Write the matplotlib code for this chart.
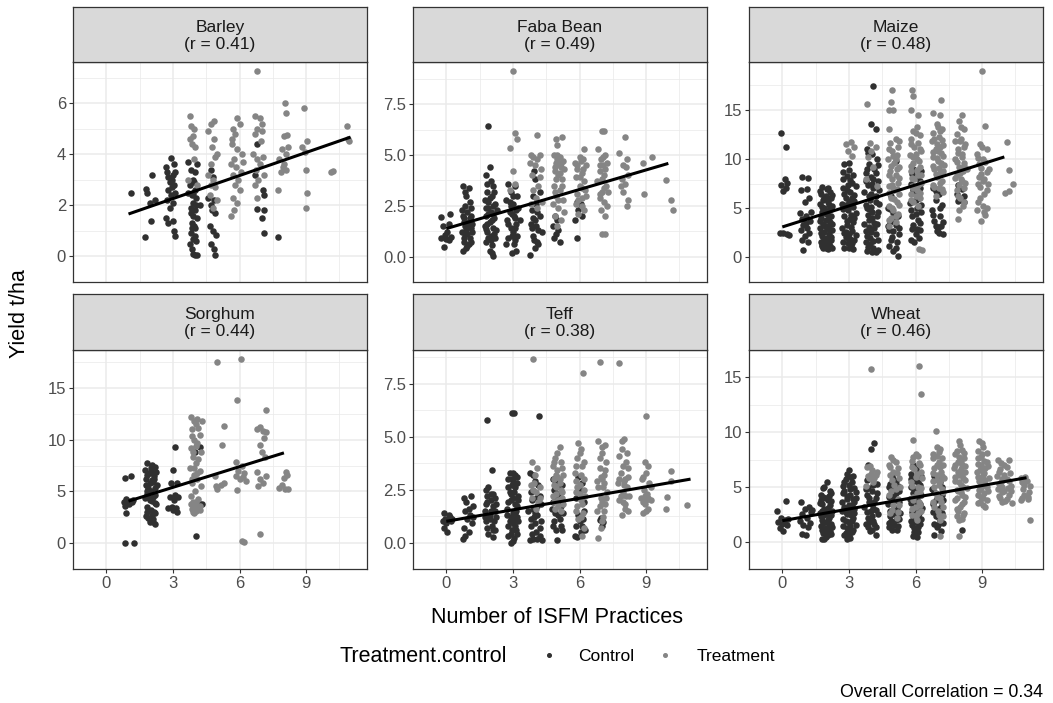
import matplotlib.pyplot as plt
import numpy as np
from matplotlib.lines import Line2D

plt.rcParams['font.family'] = ['Liberation Sans', 'DejaVu Sans']

# ---- data (x already includes the jitter) ----
crops = ["Barley", "Faba Bean", "Maize", "Sorghum", "Teff", "Wheat"]
r_values = [0.41, 0.49, 0.48, 0.44, 0.38, 0.46]
overall_r = 0.34

fit_intercept = [1.36, 1.38, 3.09, 3.40, 1.00, 1.91]
fit_slope = [0.301, 0.321, 0.711, 0.667, 0.181, 0.357]
fit_xmin = [1, 0, 0, 1, 0, 0]
fit_xmax = [11, 10, 10, 8, 11, 11]

y_ticks = [[0, 2, 4, 6], [0, 2.5, 5, 7.5], [0, 5, 10, 15],
           [0, 5, 10, 15], [0, 2.5, 5, 7.5], [0, 5, 10, 15]]
y_ticklabels = [["0", "2", "4", "6"], ["0.0", "2.5", "5.0", "7.5"], ["0", "5", "10", "15"],
                ["0", "5", "10", "15"], ["0.0", "2.5", "5.0", "7.5"], ["0", "5", "10", "15"]]
x_ticks = [0, 3, 6, 9]

barley_ctrl = [
    (1.1, 2.48), (1.75, 0.76), (1.8, 2.65), (1.85, 2.5), (2.0, 1.39), (2.05, 3.2), (2.2, 2.2), (1.95, 2.1),
    (2.9, 3.85), (2.7, 3.5), (2.75, 3.3), (2.8, 3.1), (2.85, 2.9), (2.95, 3.0), (3.0, 3.2), (3.05, 2.8),
    (2.8, 2.6), (2.9, 2.4), (3.1, 2.5), (2.75, 2.2), (3.0, 2.1), (2.85, 1.9), (3.0, 1.4), (2.8, 1.3),
    (3.05, 1.0), (3.1, 0.8), (3.05, 3.6), (2.7, 1.5), (2.95, 2.7), (3.1, 3.3),
    (3.7, 3.7), (3.8, 3.4), (4.0, 3.3), (4.1, 3.6), (3.9, 3.0), (3.75, 2.8), (4.0, 2.6), (3.85, 2.4),
    (4.05, 2.3), (3.9, 2.1), (3.8, 1.9), (4.0, 1.8), (3.9, 1.6), (4.1, 1.5), (3.85, 1.3), (4.0, 1.1),
    (3.8, 0.9), (3.9, 0.7), (3.75, 0.5), (3.85, 0.3), (4.0, 0.05), (4.1, 0.05), (3.9, 0.1), (4.2, 2.0),
    (3.7, 2.5), (3.95, 1.2), (4.05, 0.6), (3.8, 1.7), (3.95, 2.9), (3.9, 2.45), (4.05, 2.0), (3.85, 1.1),
    (4.0, 0.8),
    (4.7, 3.4), (4.8, 3.1), (4.6, 2.3), (4.75, 1.8), (4.9, 1.7), (4.65, 1.2), (4.8, 1.0), (4.95, 0.85),
    (4.7, 0.5), (4.85, 0.3), (4.9, 0.05), (4.7, 2.0), (4.85, 2.2),
    (6.8, 4.4), (7.05, 2.6), (7.1, 2.4), (6.8, 1.87), (7.1, 1.83), (7.0, 1.5), (7.1, 0.9), (6.7, 3.2),
    (7.75, 0.76),
]
barley_trt = [
    (3.75, 5.5), (3.8, 5.1), (3.95, 5.0), (3.9, 4.7), (3.75, 4.6), (3.85, 4.4), (4.0, 4.3), (3.7, 3.0),
    (4.1, 2.8), (3.95, 3.8),
    (4.7, 5.2), (4.85, 5.3), (4.6, 4.9), (4.85, 4.6), (4.75, 4.3), (5.0, 4.0), (4.9, 3.9), (4.7, 3.6),
    (4.6, 3.2), (4.8, 3.0), (4.9, 2.7), (4.65, 2.4), (5.0, 2.2), (4.8, 1.9), (4.7, 2.8),
    (5.7, 5.0), (5.9, 5.4), (6.0, 5.2), (5.8, 4.8), (5.65, 4.4), (5.9, 4.2), (6.1, 4.0), (5.75, 3.8),
    (5.6, 3.6), (5.85, 3.5), (6.05, 3.3), (5.7, 3.2), (5.95, 3.0), (5.8, 2.8), (6.0, 2.6), (5.7, 2.3),
    (5.9, 2.1), (5.6, 1.6), (5.75, 1.8), (6.15, 3.7), (5.65, 4.6),
    (6.7, 5.5), (6.9, 5.4), (7.0, 5.2), (6.8, 5.0), (6.7, 4.8), (6.95, 4.5), (6.6, 4.0), (7.05, 3.9),
    (6.8, 3.8), (6.9, 3.6), (6.75, 3.4), (7.1, 3.2), (6.85, 3.0), (6.7, 2.8), (6.8, 2.3), (7.0, 4.9),
    (8.05, 6.0), (8.1, 5.6), (8.0, 4.7), (8.12, 4.75), (7.9, 4.2), (7.8, 3.8), (8.0, 3.6), (8.1, 3.4),
    (7.85, 3.3), (7.75, 2.6), (8.2, 4.3), (8.1, 4.0), (7.95, 3.5),
    (8.9, 5.8), (9.05, 4.5), (8.95, 4.1), (9.0, 3.4), (9.05, 2.5), (9.0, 1.9), (8.8, 4.3),
    (10.1, 3.3), (10.2, 3.35), (10.85, 5.1), (10.9, 4.6), (10.95, 4.5), (6.8, 7.25),
]

faba_ctrl = [
    (-0.23, 1.95), (0.17, 2.1), (-0.15, 1.5), (0.05, 1.2), (-0.25, 0.9), (0.0, 0.85), (0.22, 0.95),
    (-0.1, 0.45), (0.12, 1.6), (-0.05, 1.05), (0.1, 0.8),
    (0.75, 3.5), (1.0, 3.4), (0.9, 3.0), (1.05, 2.7), (0.7, 2.3), (0.95, 2.2), (1.1, 2.0), (0.8, 1.9),
    (1.0, 1.7), (0.85, 1.5), (1.1, 1.4), (0.7, 1.2), (0.95, 1.1), (1.05, 0.9), (0.8, 0.7), (1.0, 0.6),
    (0.9, 0.4), (0.75, 0.3), (1.15, 1.2), (0.85, 2.5), (0.9, 1.3), (1.05, 1.9), (0.8, 0.9),
    (0.85, 3.2), (1.1, 2.4), (0.75, 2.0), (1.0, 1.5), (0.85, 1.1), (1.1, 0.7), (0.95, 0.5), (0.8, 1.7),
    (1.15, 1.6),
    (1.9, 6.45), (1.95, 4.4), (1.8, 4.0), (2.0, 3.7), (2.1, 3.5), (1.85, 3.2), (2.05, 3.0), (1.75, 2.8),
    (2.2, 2.6), (1.9, 2.4), (2.0, 2.2), (1.8, 2.0), (2.15, 1.9), (1.95, 1.7), (1.75, 1.5), (2.1, 1.4),
    (1.85, 1.2), (2.0, 1.0), (2.2, 0.9), (1.8, 0.7), (1.95, 0.3), (2.1, 0.05), (2.05, 0.2), (2.3, 2.3),
    (2.25, 1.3), (1.9, 2.7), (2.1, 2.1), (1.85, 1.6), (2.0, 0.8),
    (1.85, 3.6), (2.15, 3.2), (1.95, 2.9), (1.8, 2.4), (2.1, 2.5), (1.9, 2.1), (2.05, 1.8), (1.8, 1.35),
    (2.15, 1.1), (1.9, 0.9), (2.05, 0.55),
    (2.8, 3.6), (3.1, 3.5), (2.9, 3.2), (3.2, 3.0), (2.7, 2.8), (3.0, 2.6), (3.25, 2.4), (2.85, 2.2),
    (3.05, 2.0), (2.75, 1.8), (3.15, 1.6), (2.9, 1.4), (3.0, 1.2), (3.2, 1.0), (2.8, 0.9), (3.05, 0.6),
    (2.95, 0.2), (3.15, 0.3), (2.7, 0.6), (3.3, 1.8), (2.9, 2.5), (3.1, 1.9),
    (3.0, 3.0), (2.85, 2.7), (3.15, 2.3), (2.95, 2.1), (2.8, 1.6), (3.1, 1.4), (2.95, 1.0), (3.1, 0.8),
    (3.75, 0.1), (4.0, 0.4), (4.1, 0.7), (3.9, 1.0), (4.15, 1.3), (3.8, 1.6), (4.0, 1.8), (4.2, 2.0),
    (3.85, 2.3), (4.05, 2.6), (3.9, 3.0), (4.2, 3.2), (4.0, 3.8), (3.95, 4.2), (4.3, 1.2), (4.15, 0.6),
    (3.85, 1.4), (4.1, 2.2), (3.9, 1.9), (4.05, 1.5), (3.95, 0.8),
    (4.8, 1.5), (4.95, 1.1), (5.1, 0.7), (4.85, 0.9), (5.05, 1.3), (5.0, 1.8), (4.9, 2.0),
    (5.9, 0.9), (5.95, 2.3), (6.1, 2.0), (5.8, 1.8), (6.05, 2.6), (5.9, 2.7),
]
faba_trt = [
    (2.99, 9.13), (3.09, 6.07), (3.2, 5.8), (2.89, 5.34), (3.0, 4.2), (3.1, 3.6), (2.85, 3.3),
    (4.1, 6.0), (3.8, 5.0), (3.9, 4.9), (4.1, 4.8), (4.2, 5.0), (3.75, 4.6), (4.0, 4.5), (4.25, 4.3),
    (3.85, 4.0), (4.15, 3.5), (3.9, 3.3), (4.05, 2.9), (4.3, 2.7), (3.8, 2.6), (4.1, 2.4), (4.2, 3.9),
    (4.95, 5.8), (5.2, 5.9), (5.0, 5.5), (4.85, 5.0), (5.1, 4.9), (5.25, 4.7), (4.95, 4.6), (5.15, 4.4),
    (4.9, 4.2), (5.05, 4.0), (5.2, 3.8), (4.85, 3.5), (5.1, 3.3), (4.95, 3.0), (5.25, 2.8), (4.8, 2.6),
    (5.05, 2.4), (5.3, 2.2), (4.9, 2.0), (5.15, 1.8), (5.0, 1.5), (5.3, 4.3), (5.0, 4.8), (5.1, 4.5),
    (5.0, 5.0), (5.15, 4.6), (4.9, 4.4), (5.1, 4.1), (4.95, 3.8), (5.2, 3.5), (4.9, 3.2), (5.05, 2.8),
    (6.2, 5.3), (6.0, 4.9), (6.15, 4.8), (5.8, 4.6), (6.3, 4.5), (5.9, 4.3), (6.1, 4.1), (5.85, 3.9),
    (6.2, 3.7), (6.0, 3.5), (6.25, 3.3), (5.9, 3.1), (6.1, 2.9), (5.85, 2.6), (6.2, 2.3), (5.95, 2.1),
    (6.3, 3.0), (6.05, 4.7), (5.9, 4.5), (6.15, 4.3), (6.0, 3.9), (6.1, 3.4), (5.95, 2.8), (6.1, 2.5),
    (7.0, 6.2), (7.1, 6.2), (6.85, 5.3), (7.15, 5.0), (6.95, 4.8), (7.05, 4.5), (7.25, 4.6), (6.9, 4.2),
    (7.1, 4.0), (6.8, 3.7), (7.2, 3.5), (7.0, 3.2), (7.3, 3.2), (6.9, 2.9), (7.1, 2.7), (7.25, 2.5),
    (6.95, 2.3), (7.15, 2.0), (7.0, 1.1), (7.15, 1.1),
    (7.05, 4.9), (6.9, 4.5), (7.15, 4.3), (7.0, 3.8), (7.1, 3.4), (6.9, 3.1),
    (8.05, 5.9), (7.8, 5.1), (8.15, 4.8), (7.95, 4.5), (8.1, 4.4), (8.2, 4.0), (7.9, 3.8), (8.05, 3.6),
    (7.85, 3.5), (8.2, 2.8), (8.15, 2.5), (7.95, 3.2),
    (9.27, 4.93), (8.84, 4.63), (8.9, 3.1), (9.91, 3.76), (10.13, 2.78), (10.23, 2.28),
]

maize_ctrl = [
    (-0.05, 12.6), (0.15, 11.2), (0.1, 8.0), (0.2, 7.6), (-0.05, 7.3), (0.15, 7.0), (0.05, 6.7),
    (-0.1, 2.5), (0.05, 2.5), (0.2, 2.4), (0.3, 2.3),
    (0.9, 8.2), (1.15, 8.1), (0.85, 6.8), (1.1, 6.9), (1.2, 6.0), (1.0, 5.6), (0.8, 4.5), (1.05, 4.2),
    (0.9, 3.9), (1.25, 3.7), (0.95, 3.3), (1.1, 3.0), (0.85, 2.8), (1.2, 2.5), (1.0, 2.2), (0.9, 1.8),
    (1.15, 1.6), (0.95, 0.8), (1.3, 4.6), (1.05, 3.5),
    (1.8, 7.1), (2.0, 6.9), (2.15, 6.6), (1.75, 6.4), (1.95, 6.2), (2.2, 6.0), (1.85, 5.8), (2.05, 5.6),
    (1.7, 5.4), (2.25, 5.2), (1.9, 5.0), (2.1, 4.8), (1.8, 4.6), (2.0, 4.4), (2.2, 4.2), (1.75, 4.0),
    (1.95, 3.8), (2.15, 3.6), (1.85, 3.4), (2.05, 3.2), (1.7, 3.0), (2.25, 2.8), (1.9, 2.6), (2.1, 2.4),
    (1.8, 2.2), (2.0, 2.0), (2.2, 1.8), (1.75, 1.6), (1.95, 1.4), (2.15, 1.2), (1.85, 1.0), (2.05, 0.9),
    (2.1, 5.3), (1.9, 4.5), (2.0, 3.0), (1.8, 1.3),
    (1.72, 6.7), (2.22, 6.3), (1.88, 6.05), (2.08, 5.9), (1.78, 5.1), (2.18, 4.95), (1.97, 4.65),
    (2.12, 4.1), (1.72, 3.7), (2.22, 3.35), (1.92, 3.15), (2.1, 2.85), (1.75, 2.45), (2.2, 2.1),
    (1.9, 1.85), (2.1, 1.55), (1.8, 1.15), (2.25, 0.95), (1.95, 0.95), (2.05, 7.05),
    (2.8, 9.45), (3.0, 8.9), (2.9, 8.3), (3.15, 7.6), (2.75, 7.0), (3.05, 6.6), (3.25, 6.3), (2.85, 6.0),
    (3.1, 5.7), (2.7, 5.4), (3.2, 5.1), (2.95, 4.8), (3.3, 4.5), (2.8, 4.2), (3.05, 3.9), (3.2, 3.6),
    (2.9, 3.3), (2.7, 3.0), (3.15, 2.7), (3.0, 2.4), (2.85, 2.1), (3.25, 1.8), (2.95, 1.5), (3.1, 1.2),
    (2.8, 1.0), (3.2, 0.9), (3.0, 5.2), (2.9, 6.8), (3.1, 4.3), (2.85, 2.6), (3.05, 1.9), (3.3, 7.2),
    (2.75, 8.0),
    (3.0, 9.6), (2.72, 8.7), (3.2, 8.4), (2.95, 7.4), (2.78, 6.4), (3.15, 6.0), (3.0, 5.6), (2.75, 4.9),
    (3.25, 4.0), (2.92, 3.7), (3.1, 3.1), (2.78, 2.5), (3.3, 2.3), (2.95, 2.0), (2.75, 1.6), (3.15, 1.5),
    (3.0, 0.95), (3.25, 5.7), (2.85, 5.3), (3.05, 7.9),
    (4.1, 17.4), (4.0, 13.5), (4.2, 13.0), (3.8, 11.0), (4.05, 10.5), (4.25, 10.0), (3.9, 9.5), (4.15, 9.0),
    (3.75, 8.6), (4.0, 8.2), (4.3, 7.8), (3.85, 7.4), (4.1, 7.0), (3.7, 6.6), (4.2, 6.2), (3.95, 5.8),
    (4.35, 5.4), (3.8, 5.0), (4.05, 4.6), (4.25, 4.2), (3.9, 3.8), (3.7, 3.4), (4.15, 3.0), (4.0, 2.6),
    (3.8, 2.2), (4.3, 1.8), (3.95, 1.4), (4.1, 1.0), (3.8, 0.6), (4.2, 0.5), (4.0, 6.4), (3.9, 4.9),
    (4.15, 3.5), (3.75, 1.6), (4.05, 0.5), (4.3, 9.4),
    (3.85, 10.6), (4.2, 8.6), (3.75, 7.8), (4.05, 7.5), (4.35, 6.8), (3.9, 6.2), (4.2, 5.6), (3.75, 5.3),
    (4.0, 5.1), (4.3, 4.6), (3.85, 4.3), (4.05, 4.0), (4.25, 3.4), (3.9, 3.1), (3.75, 2.7), (4.2, 2.4),
    (3.95, 2.0), (4.1, 1.7), (3.85, 1.1), (4.3, 0.8), (4.1, 8.0), (3.8, 9.0),
    (4.75, 5.0), (5.0, 4.5), (5.2, 4.2), (4.85, 3.6), (5.1, 3.3), (4.8, 2.8), (5.25, 2.4), (4.95, 2.1),
    (5.15, 1.6), (4.8, 1.2), (5.0, 0.6), (5.2, 0.1), (4.9, 6.2), (5.1, 9.8),
    (4.85, 4.9), (5.05, 3.9), (4.75, 3.2), (5.25, 3.0), (4.9, 1.8), (5.1, 1.0), (5.0, 2.7),
    (5.9, 9.0), (6.1, 8.2), (5.8, 7.5), (6.2, 7.0), (5.95, 6.5), (6.15, 6.0), (5.75, 5.5), (6.05, 5.0),
    (6.25, 4.6), (5.85, 4.2), (6.1, 3.8), (5.9, 3.3), (6.2, 2.8), (6.0, 2.4), (5.8, 1.8), (6.15, 2.0),
    (6.0, 5.8), (5.85, 8.5), (6.2, 7.8), (5.9, 6.8), (6.25, 5.3), (5.8, 4.8), (6.0, 4.4), (6.2, 3.5),
    (5.85, 2.9), (6.05, 2.9), (5.95, 1.6), (6.25, 8.8),
    (6.8, 7.0), (7.05, 6.4), (6.9, 5.8), (7.2, 5.3), (6.75, 4.8), (7.1, 4.2), (6.85, 3.7), (7.15, 3.2),
    (6.95, 2.7), (7.25, 2.4), (7.0, 3.0), (6.9, 6.7), (7.1, 5.0), (6.8, 4.3), (7.25, 3.6), (6.9, 3.2),
    (7.05, 2.5),
    (7.9, 7.4), (8.1, 6.9), (7.85, 6.4), (8.05, 5.9), (8.2, 5.6), (7.95, 7.1), (8.2, 6.2), (7.9, 5.7),
]
maize_trt = [
    (3.1, 11.7), (3.25, 11.2), (2.95, 10.8), (3.15, 10.3), (2.85, 11.5),
    (3.8, 15.6), (3.95, 11.6), (4.2, 11.2), (3.85, 10.2), (4.1, 9.2), (3.75, 8.0), (4.25, 7.2), (4.0, 10.8),
    (4.95, 17.0), (4.9, 15.8), (4.8, 15.0), (5.0, 15.0), (4.8, 13.0), (5.1, 12.0), (4.85, 11.6), (5.2, 11.2),
    (4.95, 10.8), (5.15, 10.4), (4.75, 10.0), (5.05, 9.6), (5.25, 9.2), (4.85, 8.8), (5.1, 8.4), (4.95, 8.0),
    (5.2, 7.6), (4.8, 7.2), (5.05, 6.8), (5.25, 6.4), (4.9, 6.0), (5.15, 5.6), (4.8, 5.2), (5.0, 4.8),
    (5.2, 4.4), (4.9, 4.0), (5.1, 3.6), (4.8, 3.2), (5.0, 7.0), (5.1, 10.0),
    (5.25, 11.8), (4.8, 11.0), (5.0, 10.3), (4.9, 9.3), (5.15, 9.0), (4.8, 8.4), (5.25, 8.1), (4.95, 7.4),
    (5.15, 6.9), (4.8, 6.5), (5.05, 5.9), (5.25, 5.3), (4.95, 5.0), (5.1, 4.2), (4.8, 3.8),
    (5.85, 17.0), (5.9, 16.4), (6.1, 14.5), (5.8, 15.0), (6.05, 13.2), (5.9, 12.8), (6.2, 12.4), (5.8, 12.0),
    (6.1, 11.6), (5.95, 11.2), (6.25, 10.8), (5.75, 10.4), (6.05, 10.0), (5.9, 9.6), (6.2, 9.2), (5.8, 8.8),
    (6.1, 8.4), (5.95, 8.0), (6.25, 7.6), (5.85, 7.2), (6.05, 6.8), (6.2, 6.0), (5.9, 5.6), (6.1, 5.2),
    (6.15, 0.9), (6.3, 0.8), (6.0, 10.5), (5.8, 6.4),
    (6.0, 12.6), (5.8, 11.5), (6.2, 11.0), (5.9, 10.2), (6.15, 9.8), (5.8, 9.3), (6.05, 8.9), (6.25, 8.4),
    (5.85, 8.1), (6.1, 7.4), (5.9, 7.0), (6.2, 6.5), (6.0, 6.2), (5.8, 5.8),
    (6.8, 14.7), (7.1, 14.5), (7.15, 16.0), (6.95, 13.5), (7.2, 13.0), (6.8, 12.6), (7.05, 12.2), (6.75, 11.8),
    (7.25, 11.4), (6.9, 11.0), (7.15, 10.6), (6.8, 10.2), (7.0, 9.8), (7.3, 9.4), (6.85, 9.0), (7.1, 8.6),
    (6.95, 8.2), (7.2, 7.8), (6.8, 7.4), (7.05, 7.0), (7.25, 6.6), (6.9, 6.2), (7.0, 10.8), (7.1, 12.8),
    (7.0, 13.2), (6.85, 12.0), (7.2, 11.9), (6.95, 11.5), (7.1, 11.2), (6.8, 10.7), (7.25, 10.3),
    (6.95, 10.1), (7.15, 9.6), (6.8, 9.3), (7.05, 9.1), (7.25, 8.8), (6.9, 8.5), (7.1, 7.6), (6.85, 7.1),
    (7.2, 6.9),
    (8.1, 14.5), (7.95, 13.8), (8.2, 13.0), (7.85, 12.5), (8.05, 12.0), (8.25, 11.5), (7.9, 11.0), (8.1, 10.5),
    (7.8, 10.0), (8.2, 9.6), (7.95, 9.2), (8.15, 8.8), (7.85, 8.4), (8.05, 8.0), (8.25, 7.6), (7.9, 6.2),
    (8.15, 5.2), (7.95, 4.8), (7.9, 3.9), (8.3, 9.0), (8.0, 11.8),
    (8.05, 13.2), (7.8, 11.8), (8.2, 11.2), (7.9, 10.6), (8.1, 10.2), (7.85, 9.7), (8.2, 9.3), (8.0, 8.6),
    (7.8, 8.1), (8.1, 7.8), (7.95, 7.4), (8.2, 7.0), (7.85, 6.8), (8.0, 6.0), (8.2, 5.6),
    (9.0, 18.9), (9.15, 13.3), (8.9, 11.5), (9.2, 11.0), (8.75, 10.5), (9.05, 10.0), (8.85, 9.5), (9.3, 9.0),
    (8.95, 8.5), (9.1, 8.0), (8.8, 7.5), (9.2, 6.8), (8.9, 6.0), (9.05, 5.2), (8.75, 4.8), (9.15, 4.3),
    (8.95, 3.7), (9.25, 7.5),
    (9.0, 11.2), (8.8, 10.1), (9.15, 9.7), (8.95, 9.1), (9.2, 8.7), (8.85, 8.2), (9.05, 7.8), (8.9, 7.1),
    (9.1, 6.4), (8.8, 5.6), (9.2, 5.0), (9.1, 4.6),
    (10.1, 11.7), (10.2, 8.9), (10.2, 6.7), (10.05, 6.5), (10.4, 7.5),
]

sorghum_ctrl = [
    (0.83, 6.29), (1.1, 6.5), (0.8, 4.0), (0.9, 4.3), (1.0, 3.8), (0.85, 3.6), (1.15, 4.0), (1.2, 4.2),
    (0.9, 2.9), (0.83, 0.05), (1.25, 0.0), (1.05, 4.1),
    (1.85, 7.8), (2.05, 7.6), (2.2, 7.4), (1.75, 7.1), (1.95, 6.8), (2.15, 6.5), (1.8, 6.2), (2.1, 5.9),
    (2.3, 5.6), (1.9, 5.3), (2.0, 5.0), (2.2, 4.7), (1.75, 4.4), (2.05, 4.1), (2.25, 3.8), (1.85, 3.5),
    (2.0, 3.2), (2.2, 2.9), (1.8, 2.6), (2.1, 2.3), (1.95, 2.0), (2.2, 1.9), (2.05, 6.1), (1.9, 4.5),
    (2.15, 3.0), (1.8, 5.6), (2.0, 7.3), (2.25, 6.9), (1.9, 2.4),
    (2.0, 7.0), (1.85, 6.6), (2.15, 6.2), (1.95, 5.8), (2.2, 5.3), (1.85, 5.0), (2.1, 4.5), (1.95, 4.2),
    (2.2, 3.9), (1.85, 3.0), (2.05, 2.7), (1.95, 2.3), (2.1, 2.0), (1.85, 4.8),
    (3.1, 9.3), (3.0, 7.1), (2.9, 5.8), (3.2, 5.8), (3.1, 4.7), (2.85, 4.5), (3.05, 4.2), (2.8, 3.4),
    (3.0, 3.2), (3.2, 3.0), (2.95, 3.5), (3.15, 3.4), (3.25, 4.5),
    (4.03, 0.74), (4.2, 9.3), (4.0, 8.8), (4.3, 3.8), (4.15, 4.0),
]
sorghum_trt = [
    (3.8, 12.2), (4.1, 12.0), (4.05, 11.5), (3.85, 11.0), (4.2, 10.5), (3.95, 10.0), (4.1, 9.7), (3.8, 9.2),
    (4.25, 8.8), (3.9, 8.3), (4.05, 7.8), (3.75, 7.3), (4.2, 7.0), (3.95, 6.6), (4.1, 6.2), (3.85, 5.8),
    (4.25, 5.5), (4.0, 5.0), (3.8, 4.6), (4.15, 4.3), (3.9, 4.0), (4.0, 3.7), (4.1, 3.5), (3.85, 3.3),
    (4.05, 3.1), (3.95, 2.9), (4.2, 3.2), (3.8, 3.8), (4.3, 11.8),
    (3.95, 11.8), (4.15, 11.1), (3.85, 10.4), (4.05, 9.4), (3.9, 8.8), (4.15, 8.1), (3.95, 7.3),
    (4.1, 6.8), (3.85, 6.2), (4.05, 4.0), (3.95, 3.5), (4.2, 3.6), (3.9, 3.0),
    (5.0, 17.5), (5.3, 11.3), (5.2, 9.5), (4.9, 6.5), (5.15, 5.6), (5.0, 5.2), (5.3, 5.8), (4.95, 5.5),
    (6.05, 17.8), (5.9, 13.9), (5.85, 7.9), (6.1, 7.5), (5.95, 7.0), (6.2, 6.8), (5.85, 6.5), (6.0, 6.2),
    (6.15, 6.4), (5.9, 5.1), (6.3, 6.0), (6.1, 0.2), (6.2, 0.15),
    (7.19, 12.93), (6.8, 11.0), (6.9, 11.2), (7.05, 10.9), (7.2, 10.8), (7.1, 10.2), (6.9, 9.5), (7.0, 8.8),
    (7.15, 8.3), (6.8, 6.9), (7.2, 6.5), (6.9, 6.2), (7.05, 5.8), (6.85, 5.5), (6.9, 0.9),
    (8.1, 6.9), (8.15, 6.6), (8.0, 6.3), (7.9, 5.6), (8.05, 5.2), (8.2, 5.2), (7.8, 5.3),
]

teff_ctrl = [
    (-0.1, 1.4), (0.1, 1.3), (-0.05, 1.1), (0.2, 1.0), (0.0, 0.9), (0.15, 1.2), (-0.1, 0.7), (0.05, 0.5),
    (0.25, 1.1), (-0.15, 1.0),
    (0.8, 2.1), (1.1, 2.2), (0.9, 1.9), (1.2, 1.7), (0.85, 1.5), (1.05, 1.3), (0.95, 1.1), (1.15, 0.9),
    (0.8, 0.7), (1.0, 0.5), (0.85, 0.3), (0.75, 0.15), (1.2, 1.2), (1.0, 1.6),
    (1.84, 5.78), (2.05, 3.4), (1.8, 2.5), (2.0, 2.3), (2.2, 2.1), (1.85, 1.9), (2.1, 1.7), (1.75, 1.5),
    (1.95, 1.3), (2.25, 1.2), (1.8, 1.0), (2.05, 0.8), (2.2, 0.6), (1.9, 0.4), (2.1, 0.25), (2.0, 1.5),
    (1.85, 2.2), (2.15, 1.0),
    (1.9, 2.6), (2.1, 2.3), (1.8, 1.8), (2.2, 1.5), (1.95, 1.1), (2.1, 0.6), (1.85, 0.7), (2.25, 1.8),
    (1.75, 1.2), (2.0, 2.0),
    (2.95, 6.1), (3.05, 6.1), (2.85, 3.3), (3.1, 3.2), (2.95, 3.0), (3.2, 2.8), (2.8, 2.6), (3.05, 2.4),
    (3.25, 2.2), (2.9, 2.0), (3.1, 1.8), (2.75, 1.6), (3.0, 1.4), (3.2, 1.2), (2.85, 1.0), (3.1, 0.8),
    (2.95, 0.6), (3.2, 0.4), (2.8, 0.3), (3.0, 0.05), (2.9, 0.0), (3.15, 1.5), (2.9, 2.3), (3.05, 1.1),
    (3.0, 3.3), (2.8, 3.0), (3.2, 3.1), (2.95, 2.7), (3.1, 2.6), (2.85, 2.4), (3.25, 2.0), (3.0, 2.1),
    (2.8, 1.9), (3.1, 1.4), (2.9, 1.2), (3.25, 1.0), (2.8, 0.8), (3.0, 0.9), (3.15, 0.6), (2.9, 0.4),
    (3.05, 0.2), (2.75, 1.3), (3.2, 1.7), (3.0, 2.9),
    (4.17, 5.99), (3.75, 3.3), (4.0, 2.9), (4.2, 2.2), (3.85, 2.0), (4.1, 1.7), (3.7, 1.5), (3.95, 1.2),
    (4.25, 1.0), (3.8, 0.8), (4.05, 0.5), (4.2, 0.3), (3.9, 0.15), (4.3, 0.1), (3.75, 0.1), (4.0, 1.4),
    (3.9, 3.2), (4.15, 2.7), (3.8, 2.4), (4.05, 2.1), (4.25, 1.8), (3.9, 1.6), (4.1, 1.3), (3.8, 1.1),
    (4.0, 0.9), (4.2, 0.7), (3.85, 0.4), (4.1, 0.15),
    (5.0, 0.1), (4.8, 3.0), (5.1, 2.6), (4.9, 2.2), (5.2, 1.9), (4.75, 1.6), (5.05, 1.3), (4.85, 1.0),
    (5.15, 0.8), (4.95, 0.6), (5.25, 1.4),
    (4.95, 2.9), (5.2, 2.7), (4.85, 2.5), (5.05, 2.3), (4.8, 1.9), (5.15, 1.7), (4.9, 1.4), (5.1, 1.1),
    (4.8, 0.8), (5.2, 0.6),
    (5.95, 3.1), (6.1, 2.8), (5.8, 0.3), (5.9, 0.25), (6.2, 1.5), (6.0, 1.0), (6.25, 0.6), (6.1, 0.8),
    (6.05, 2.5), (5.85, 2.1), (6.2, 1.9), (5.95, 1.3), (6.15, 1.1), (5.85, 0.8), (6.05, 0.5),
    (6.9, 1.05), (7.05, 0.95), (6.95, 1.15), (7.0, 0.8),
]
teff_trt = [
    (3.9, 8.65), (3.85, 3.8), (4.1, 3.5), (3.95, 2.8), (4.2, 2.6), (4.05, 2.4), (3.8, 2.7), (4.15, 1.9),
    (4.0, 3.2), (3.9, 2.5), (4.2, 2.1), (3.85, 2.1), (4.05, 1.6),
    (5.1, 4.5), (4.9, 4.0), (5.15, 3.8), (4.8, 3.6), (5.0, 3.4), (5.25, 3.2), (4.85, 3.0), (5.1, 2.8),
    (4.95, 2.6), (5.2, 2.4), (4.8, 2.2), (5.05, 2.0), (5.25, 1.8), (4.9, 1.6), (5.0, 3.1),
    (5.0, 4.2), (4.85, 3.8), (5.2, 3.5), (4.95, 3.2), (5.1, 3.0), (4.85, 2.7), (5.15, 2.5), (4.95, 2.3),
    (5.2, 2.1), (4.85, 1.9), (5.05, 1.7), (5.15, 1.5),
    (6.15, 8.0), (5.95, 4.7), (6.05, 4.4), (5.9, 4.0), (6.1, 3.6), (5.8, 3.3), (6.2, 3.0), (6.0, 2.7),
    (5.85, 2.4), (6.25, 2.2), (6.05, 2.0), (5.9, 1.7), (6.15, 1.4), (5.95, 1.1), (6.2, 0.7), (6.1, 0.3),
    (5.85, 2.9), (6.0, 4.2), (6.2, 3.8), (5.85, 3.6), (6.05, 3.2), (5.9, 2.6), (6.2, 2.5), (6.0, 2.3),
    (6.1, 1.8), (5.85, 1.5), (6.05, 1.2),
    (6.9, 8.5), (6.85, 4.8), (7.15, 4.6), (7.0, 4.2), (7.2, 3.8), (6.9, 3.5), (7.1, 3.2), (6.8, 2.9),
    (7.05, 2.6), (7.25, 2.4), (6.95, 2.1), (7.15, 1.8), (6.8, 1.5), (7.05, 1.2), (6.95, 0.7), (6.85, 0.2),
    (7.0, 3.0), (7.0, 4.5), (6.9, 4.0), (7.15, 3.4), (6.95, 3.1), (7.1, 2.8), (6.85, 2.6), (7.2, 2.1),
    (7.0, 1.9), (6.9, 1.7), (7.1, 1.5), (7.0, 1.0),
    (7.78, 8.48), (8.0, 4.9), (7.9, 4.8), (7.8, 4.1), (8.15, 4.2), (8.2, 3.5), (7.85, 3.3), (8.05, 3.0),
    (7.75, 2.8), (8.15, 2.6), (7.95, 2.4), (8.25, 2.2), (7.8, 2.0), (8.05, 1.8), (8.2, 1.5), (7.9, 1.3),
    (8.0, 2.9), (7.9, 4.4), (8.1, 3.8), (7.95, 3.6), (8.2, 3.1), (7.8, 3.0), (8.0, 2.7), (8.1, 2.2),
    (7.85, 2.2), (8.05, 1.6), (7.95, 1.9),
    (8.98, 5.99), (8.95, 3.8), (9.1, 3.6), (8.8, 3.0), (9.15, 2.8), (8.9, 2.5), (9.05, 2.3), (8.75, 2.1),
    (9.2, 2.0), (8.95, 1.8), (9.1, 1.6), (8.85, 1.4), (9.0, 2.0),
    (9.0, 3.3), (8.85, 3.1), (9.2, 2.6), (8.95, 2.2), (9.1, 2.1), (8.85, 1.9), (9.0, 1.5),
    (10.11, 3.38), (9.94, 2.16), (9.9, 1.6), (10.1, 2.9), (10.86, 1.78),
]

wheat_ctrl = [
    (-0.26, 2.84), (0.15, 3.7), (-0.2, 1.8), (0.0, 1.6), (0.1, 2.0), (0.2, 1.5), (-0.1, 1.2), (0.05, 1.0),
    (0.25, 2.1), (-0.05, 2.2),
    (0.85, 3.6), (1.2, 3.2), (1.0, 3.0), (1.3, 2.7), (0.9, 2.5), (1.1, 2.2), (0.8, 1.9), (1.25, 1.7),
    (0.95, 1.5), (1.15, 1.3), (0.9, 0.7), (1.05, 0.6), (1.35, 2.9),
    (2.0, 5.4), (1.85, 4.9), (2.15, 4.6), (1.75, 4.3), (1.95, 4.0), (2.2, 3.7), (1.8, 3.4), (2.05, 3.1),
    (2.25, 2.8), (1.7, 2.6), (1.9, 2.4), (2.1, 2.2), (1.8, 2.0), (2.0, 1.8), (2.2, 1.6), (1.75, 1.4),
    (1.95, 1.2), (2.15, 1.0), (1.85, 0.8), (2.05, 0.6), (1.8, 0.2), (1.9, 0.2), (2.25, 1.3), (1.9, 3.0),
    (2.1, 4.2), (2.0, 2.6), (1.75, 3.8),
    (1.9, 5.0), (2.2, 4.4), (1.85, 4.1), (2.05, 3.8), (1.7, 3.5), (2.15, 3.3), (1.95, 2.9), (1.75, 2.3),
    (2.2, 2.4), (2.05, 2.0), (1.85, 1.7), (2.1, 1.4), (1.8, 1.1), (2.0, 0.9), (2.2, 0.7), (1.95, 0.4),
    (2.1, 2.8), (1.8, 2.8),
    (3.0, 6.5), (2.85, 5.7), (3.15, 5.4), (2.75, 5.1), (3.05, 4.8), (3.3, 4.5), (2.9, 4.2), (3.2, 3.9),
    (2.7, 3.6), (3.0, 3.3), (3.25, 3.0), (2.85, 2.7), (3.1, 2.4), (2.75, 2.1), (3.0, 1.8), (3.3, 1.5),
    (2.9, 1.2), (3.15, 0.9), (2.8, 0.6), (3.05, 0.3), (2.9, 0.25), (3.2, 2.2), (2.8, 4.6), (3.1, 5.9),
    (3.0, 1.1), (3.25, 3.6),
    (2.9, 6.2), (3.2, 6.0), (2.8, 5.4), (3.0, 5.2), (3.25, 4.9), (2.75, 4.4), (3.05, 4.3), (2.9, 3.9),
    (3.15, 3.3), (2.8, 3.2), (3.05, 2.9), (2.9, 2.5), (3.25, 2.6), (2.85, 1.9), (3.15, 1.9), (2.75, 1.4),
    (3.05, 1.4), (3.2, 1.1), (2.85, 0.8), (3.0, 0.6), (3.3, 4.0), (2.7, 2.8),
    (3.85, 7.0), (4.0, 8.5), (4.15, 9.0), (4.2, 0.6), (3.8, 5.6), (4.1, 5.2), (3.75, 4.8), (4.25, 4.4),
    (3.9, 4.0), (4.15, 3.6), (3.7, 3.2), (4.0, 2.8), (4.3, 2.5), (3.85, 2.2), (4.1, 1.9), (3.75, 1.6),
    (4.2, 1.3), (3.95, 1.0), (4.05, 3.4),
    (3.95, 5.9), (4.25, 5.3), (3.85, 4.9), (4.05, 4.6), (3.8, 4.3), (4.2, 4.0), (3.9, 3.6), (4.1, 3.1),
    (3.8, 2.7), (4.2, 2.9), (4.05, 2.3), (3.9, 1.8), (4.15, 1.6), (3.85, 1.3), (4.05, 1.1),
    (4.95, 6.0), (5.1, 5.5), (4.8, 5.0), (5.25, 4.6), (4.95, 4.2), (5.15, 3.8), (4.75, 3.4), (5.05, 3.0),
    (5.3, 2.6), (4.85, 2.3), (5.1, 2.0), (4.8, 1.7), (5.2, 1.4), (4.95, 1.1), (5.05, 4.0),
    (5.0, 5.7), (4.85, 5.3), (5.2, 5.1), (4.9, 4.8), (5.1, 4.4), (4.8, 4.1), (5.25, 3.6), (4.95, 3.5),
    (5.15, 3.1), (4.85, 2.8), (5.05, 2.5), (5.25, 2.1), (4.9, 1.9), (5.05, 1.5), (4.8, 1.3), (5.15, 1.1),
    (5.9, 7.0), (6.1, 6.3), (5.8, 5.7), (6.2, 5.2), (5.95, 4.8), (6.25, 4.3), (5.75, 3.9), (6.05, 3.5),
    (6.3, 3.1), (5.85, 2.7), (6.1, 2.3), (5.8, 1.9), (6.2, 1.6), (5.95, 1.2), (6.1, 0.9), (5.9, 0.5),
    (6.05, 0.4), (6.0, 2.9),
    (6.0, 6.6), (5.8, 6.2), (6.25, 6.0), (5.95, 5.5), (6.1, 5.4), (5.8, 5.0), (6.15, 4.6), (5.9, 4.4),
    (6.05, 4.0), (5.8, 3.5), (6.2, 3.4), (5.95, 3.0), (6.15, 2.6), (5.9, 2.3), (6.25, 2.1), (6.0, 1.8),
    (5.85, 1.5), (6.1, 1.3), (5.95, 0.9),
    (6.85, 6.0), (7.1, 5.4), (6.75, 4.8), (7.2, 4.3), (6.9, 3.8), (7.15, 3.2), (6.8, 2.7), (7.05, 2.2),
    (7.25, 1.7), (6.95, 1.3), (7.15, 1.0), (6.85, 0.6),
    (6.95, 5.7), (7.2, 5.0), (6.85, 4.5), (7.05, 4.0), (7.25, 3.8), (6.8, 3.4), (7.0, 3.0), (7.2, 2.6),
    (6.9, 2.3), (7.1, 1.9), (6.85, 1.6), (7.0, 1.5),
    (8.1, 1.1),
]
wheat_trt = [
    (3.98, 15.79),
    (3.8, 6.8), (4.05, 6.5), (4.2, 6.1), (3.9, 5.8), (4.1, 5.4), (3.75, 5.1), (4.25, 6.4),
    (4.0, 6.2), (3.85, 6.0), (4.15, 5.8), (3.95, 6.9),
    (4.9, 7.7), (5.1, 7.3), (4.8, 7.0), (5.2, 6.7), (5.0, 6.4), (4.85, 6.1), (5.25, 5.8), (5.05, 5.2),
    (4.9, 4.6), (5.2, 3.9), (5.0, 3.3), (4.85, 2.6), (5.15, 2.2), (5.3, 5.0),
    (5.0, 7.5), (4.85, 6.8), (5.15, 6.3), (4.95, 5.6), (5.1, 4.8), (4.8, 4.3), (5.25, 3.3), (4.95, 2.9),
    (5.2, 2.7),
    (6.15, 16.0), (6.25, 13.5), (5.9, 9.3), (6.1, 7.8), (5.85, 7.4), (6.2, 7.0), (5.95, 6.6), (6.05, 6.2),
    (6.3, 5.8), (5.8, 5.4), (6.1, 5.0), (6.2, 4.5), (5.9, 4.1), (6.15, 3.6), (6.0, 3.2), (6.25, 2.8),
    (5.85, 2.4), (6.05, 2.0),
    (6.0, 8.0), (5.9, 7.7), (6.15, 7.2), (5.85, 6.8), (6.25, 6.4), (6.0, 5.9), (5.85, 5.1), (6.25, 4.9),
    (6.05, 4.4), (5.9, 3.8), (6.2, 3.3), (5.85, 3.0), (6.1, 2.6), (6.0, 2.3),
    (6.9, 10.06), (6.95, 8.6), (7.1, 8.5), (6.8, 7.6), (7.05, 7.3), (7.25, 7.0), (6.85, 6.7), (7.15, 6.4),
    (6.95, 6.1), (7.3, 5.8), (6.8, 5.5), (7.05, 5.2), (7.2, 4.8), (6.9, 4.4), (7.1, 4.0), (6.8, 3.6),
    (7.25, 3.2), (7.0, 2.8), (7.1, 2.0), (7.1, 0.5), (6.95, 7.8),
    (7.05, 8.2), (6.8, 8.0), (7.2, 7.6), (6.95, 7.0), (7.1, 6.8), (6.8, 6.3), (7.2, 6.0), (6.95, 5.6),
    (7.1, 5.5), (6.85, 5.0), (7.25, 4.5), (6.95, 4.1), (7.15, 3.6), (6.85, 3.2), (7.05, 2.4), (7.25, 2.3),
    (7.95, 9.2), (8.1, 8.4), (7.8, 8.0), (8.2, 7.6), (7.9, 7.3), (8.1, 7.0), (7.75, 6.7), (8.25, 6.4),
    (7.95, 6.1), (8.15, 5.8), (7.8, 5.5), (8.05, 5.2), (8.3, 4.9), (7.9, 4.6), (8.1, 4.3), (7.85, 4.0),
    (8.2, 3.6), (8.0, 3.2), (7.9, 2.8), (8.15, 2.4), (7.95, 2.0), (7.95, 0.5), (8.05, 6.6),
    (8.0, 8.8), (7.85, 8.3), (8.2, 8.1), (7.95, 7.7), (8.05, 7.3), (7.8, 7.0), (8.25, 6.9), (7.9, 6.4),
    (8.1, 6.2), (7.8, 5.9), (8.25, 5.6), (7.95, 5.4), (8.15, 5.0), (7.85, 4.7), (8.05, 4.5), (8.25, 4.1),
    (7.8, 3.8), (8.1, 3.4), (7.85, 3.0), (8.2, 2.6), (7.85, 2.3), (8.1, 2.1),
    (8.85, 9.2), (9.05, 8.6), (9.0, 8.0), (8.8, 7.6), (9.2, 7.3), (8.95, 7.0), (9.15, 6.7), (8.75, 6.4),
    (9.05, 6.1), (9.3, 5.8), (8.85, 5.5), (9.1, 5.2), (8.95, 4.9), (9.25, 4.6), (8.8, 4.3), (9.05, 4.0),
    (8.9, 3.6), (9.15, 3.2), (9.0, 5.8), (8.95, 6.8),
    (9.0, 9.0), (8.8, 8.3), (9.2, 8.1), (8.95, 7.7), (9.1, 7.4), (8.8, 7.1), (9.25, 6.9), (8.9, 6.5),
    (9.1, 6.3), (8.8, 5.9), (9.15, 5.6), (8.95, 5.3), (9.2, 5.0), (8.85, 4.7), (9.1, 4.4), (8.95, 4.1),
    (9.2, 3.8), (8.8, 3.5), (9.05, 3.3),
    (9.7, 7.5), (10.2, 7.5), (10.0, 7.0), (9.8, 6.6), (10.25, 6.3), (9.65, 6.0), (10.1, 5.7), (9.85, 5.4),
    (10.3, 5.1), (9.7, 4.8), (10.0, 4.6), (10.2, 4.3), (9.8, 4.0), (10.05, 3.7), (10.35, 3.5), (9.9, 5.0),
    (9.85, 7.2), (10.1, 6.8), (9.75, 6.4), (10.0, 6.1), (9.9, 5.7), (10.2, 5.5), (9.75, 5.3), (10.15, 4.9),
    (9.9, 4.5), (10.3, 4.6), (9.75, 4.2), (10.1, 3.9), (9.9, 3.6),
    (10.75, 5.8), (11.0, 5.5), (10.85, 4.8), (11.1, 4.5), (10.8, 4.0), (11.05, 3.9), (10.9, 5.2), (11.17, 2.0),
    (10.95, 5.9), (10.8, 5.4), (11.15, 5.1), (10.9, 4.3), (11.05, 4.1), (10.75, 3.8),
]

control_points = [barley_ctrl, faba_ctrl, maize_ctrl, sorghum_ctrl, teff_ctrl, wheat_ctrl]
treatment_points = [barley_trt, faba_trt, maize_trt, sorghum_trt, teff_trt, wheat_trt]

# ---- styling ----
CTRL_COLOR = "#303030"
TRT_COLOR = "#858585"
GRID = "#EBEBEB"
FRAME = "#333333"
TICK_TXT = "#4D4D4D"
PT_SIZE = 22

W, H = 1053, 703
fig = plt.figure(figsize=(W / 100, H / 100), dpi=100)


def px_box(left, top, width, height):
    return [left / W, 1 - (top + height) / H, width / W, height / H]


col_left = [73, 413, 749]
panel_w = 294
rows = [(7, 62, 282), (294, 350, 569)]  # strip top, plot top, plot bottom

all_x = [p[0] for pts in control_points + treatment_points for p in pts]
x_lo, x_hi = min(all_x), max(all_x)
x_pad = 0.05 * (x_hi - x_lo)
x_lim = (x_lo - x_pad, x_hi + x_pad)

for i, crop in enumerate(crops):
    r, c = divmod(i, 3)
    strip_top, plot_top, plot_bot = rows[r]
    left = col_left[c]

    ax = fig.add_axes(px_box(left, plot_top, panel_w, plot_bot - plot_top))
    ctrl = np.array(control_points[i])
    trt = np.array(treatment_points[i])
    ax.scatter(ctrl[:, 0], ctrl[:, 1], s=PT_SIZE, color=CTRL_COLOR, linewidths=0, zorder=3)
    ax.scatter(trt[:, 0], trt[:, 1], s=PT_SIZE, color=TRT_COLOR, linewidths=0, zorder=3)

    xs = np.array([fit_xmin[i], fit_xmax[i]])
    ax.plot(xs, fit_intercept[i] + fit_slope[i] * xs, color="black", lw=2.2, zorder=4,
            solid_capstyle="butt")

    ys = np.concatenate([ctrl[:, 1], trt[:, 1]])
    pad = 0.05 * (ys.max() - ys.min())
    ax.set_ylim(ys.min() - pad, ys.max() + pad)
    ax.set_xlim(*x_lim)

    yt = y_ticks[i]
    step = yt[1] - yt[0]
    ax.set_yticks(yt)
    ax.set_yticklabels(y_ticklabels[i])
    ax.set_yticks([t + step / 2 for t in [yt[0] - step] + yt], minor=True)
    ax.set_xticks(x_ticks)
    ax.set_xticks([t + 1.5 for t in [-3] + x_ticks], minor=True)
    ax.grid(True, which="major", color=GRID, lw=1.1, zorder=0)
    ax.grid(True, which="minor", color=GRID, lw=0.55, zorder=0)
    ax.set_axisbelow(True)

    ax.tick_params(axis="both", which="major", length=3, width=0.8, color=FRAME,
                   labelsize=12, labelcolor=TICK_TXT, pad=2)
    ax.tick_params(axis="both", which="minor", length=0)
    if r == 0:
        ax.tick_params(axis="x", which="major", length=0, labelbottom=False)
    for sp in ax.spines.values():
        sp.set_color(FRAME)
        sp.set_linewidth(0.9)

    # facet strip
    sax = fig.add_axes(px_box(left, strip_top, panel_w, plot_top - strip_top))
    sax.set_xticks([])
    sax.set_yticks([])
    sax.set_facecolor("#D9D9D9")
    for sp in sax.spines.values():
        sp.set_color(FRAME)
        sp.set_linewidth(0.9)
    sax.text(0.5, 0.48, f"{crop}\n(r = {r_values[i]:.2f})", ha="center", va="center",
             fontsize=12.5, color="#1A1A1A", linespacing=1.15, transform=sax.transAxes)

# axis titles
fig.text(557 / W, 1 - 623 / H, "Number of ISFM Practices", ha="center", va="baseline",
         fontsize=15.5, color="black")
fig.text(20 / W, 1 - 314 / H, "Yield t/ha", ha="center", va="center", rotation=90,
         fontsize=15.5, color="black")

# legend
fig.text(339 / W, 1 - 662 / H, "Treatment.control", ha="left", va="baseline",
         fontsize=15.5, color="black")
for mx, lx, label, col in [(549, 578, "Control", CTRL_COLOR), (665, 697, "Treatment", TRT_COLOR)]:
    fig.add_artist(Line2D([mx / W], [1 - 655 / H], marker="o", markersize=2.6, color=col,
                          linestyle="none", transform=fig.transFigure))
    fig.text(lx / W, 1 - 661 / H, label, ha="left", va="baseline", fontsize=12.5, color="black")

fig.text(1043 / W, 1 - 697 / H, f"Overall Correlation = {overall_r:.2f}", ha="right",
         va="baseline", fontsize=12.8, color="black")

fig.savefig("out.png", dpi=100)
